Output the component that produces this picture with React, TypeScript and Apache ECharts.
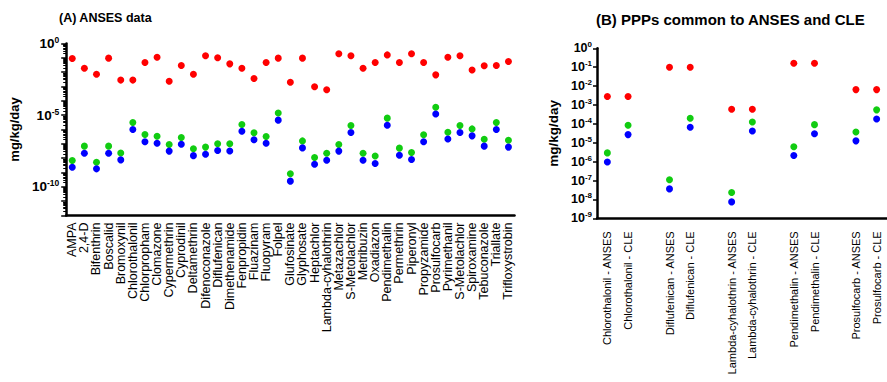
import React, { useEffect, useRef } from 'react';
import * as echarts from 'echarts';

const FONT = '"Liberation Sans", Arial, Helvetica, sans-serif';

// ---------- Panel A: ANSES data ----------
const catsA = [
  'AMPA', '2,4-D', 'Bifenthrin', 'Boscalid', 'Bromoxynil', 'Chlorothalonil', 'Chlorpropham',
  'Clomazone', 'Cypermethrin', 'Cyprodinil', 'Deltamethrin', 'Difenoconazole', 'Diflufenican',
  'Dimethenamide', 'Fenpropidin', 'Fluazinam', 'Fluopyram', 'Folpel', 'Glufosinate', 'Glyphosate',
  'Heptachlor', 'Lambda-cyhalothrin', 'Metazachlor', 'S-Metolachlor', 'Metribuzin', 'Oxadiazon',
  'Pendimethalin', 'Permethrin', 'Piperonyl', 'Propyzamide', 'Prosulfocarb', 'Pyrimethanil',
  'S-Metolachlor', 'Spiroxamine', 'Tebuconazole', 'Triallate', 'Trifloxystrobin',
];

const redA = [
  8.9e-2, 1.9e-2, 7.2e-3, 9.5e-2, 2.8e-3, 2.8e-3, 4.7e-2, 1.1e-1, 2.3e-3, 2.9e-2,
  7.2e-3, 1.4e-1, 1.0e-1, 3.8e-2, 1.9e-2, 3.6e-3, 4.7e-2, 9.5e-2, 2.0e-3, 9.5e-2,
  9.5e-4, 5.9e-4, 1.9e-1, 1.4e-1, 1.9e-2, 4.7e-2, 1.6e-1, 4.7e-2, 1.9e-1, 4.7e-2,
  6.5e-3, 1.1e-1, 1.4e-1, 1.4e-2, 2.8e-2, 2.9e-2, 5.5e-2,
];

const greenA = [
  6.9e-9, 6.9e-8, 5.2e-9, 6.9e-8, 2.3e-8, 3.1e-6, 4.5e-7, 3.4e-7, 8.9e-8, 2.8e-7,
  4.5e-8, 5.9e-8, 1.0e-7, 1.0e-7, 2.2e-6, 5.9e-7, 3.2e-7, 1.4e-5, 8.1e-10, 1.6e-7,
  1.1e-8, 2.2e-8, 8.9e-8, 1.9e-6, 2.2e-8, 1.4e-8, 6.2e-6, 5.0e-8, 2.5e-8, 4.3e-7,
  3.6e-5, 6.5e-7, 1.9e-6, 1.1e-6, 2.1e-7, 3.1e-6, 1.8e-7,
];

const blueA = [
  2.3e-9, 2.2e-8, 1.8e-9, 2.2e-8, 7.6e-9, 1.0e-6, 1.4e-7, 1.1e-7, 3.1e-8, 9.3e-8,
  1.5e-8, 1.9e-8, 3.4e-8, 3.2e-8, 7.6e-7, 1.9e-7, 1.1e-7, 4.5e-6, 2.5e-10, 5.2e-8,
  3.8e-9, 7.2e-9, 3.1e-8, 6.2e-7, 7.2e-9, 4.3e-9, 2.0e-6, 1.6e-8, 8.1e-9, 1.4e-7,
  1.2e-5, 2.2e-7, 6.2e-7, 3.6e-7, 6.9e-8, 1.0e-6, 5.9e-8,
];

const labelTicksA = [1, 1e-5, 1e-10];

// ---------- Panel B: PPPs common to ANSES and CLE ----------
const catsB = [
  'Chlorothalonil - ANSES', 'Chlorothalonil - CLE', ' ',
  'Diflufenican - ANSES', 'Diflufenican - CLE', '  ',
  'Lambda-cyhalothrin - ANSES', 'Lambda-cyhalothrin - CLE', '   ',
  'Pendimethalin - ANSES', 'Pendimethalin - CLE', '    ',
  'Prosulfocarb - ANSES', 'Prosulfocarb - CLE',
];

const redB = [2.8e-3, 2.8e-3, null, 1.0e-1, 1.0e-1, null, 5.9e-4, 5.9e-4, null, 1.6e-1, 1.6e-1, null, 6.5e-3, 6.5e-3];
const greenB = [2.9e-6, 8.5e-5, null, 1.1e-7, 2.0e-4, null, 2.3e-8, 1.26e-4, null, 6.2e-6, 9.1e-5, null, 3.7e-5, 5.5e-4];
const blueB = [9.5e-7, 2.7e-5, null, 3.6e-8, 6.6e-5, null, 7.4e-9, 4.2e-5, null, 2.1e-6, 3.0e-5, null, 1.26e-5, 1.8e-4];

const decadesA = [1, 1e-1, 1e-2, 1e-3, 1e-4, 1e-5, 1e-6, 1e-7, 1e-8, 1e-9, 1e-10, 1e-11, 1e-12];
const decadesB = [1, 1e-1, 1e-2, 1e-3, 1e-4, 1e-5, 1e-6, 1e-7, 1e-8, 1e-9];

const RED = '#ff0000';
const GREEN = '#11cc11';
const BLUE = '#0000ff';

function minorLogTicks(lo: number, hi: number): number[] {
  const out: number[] = [];
  for (let e = lo; e < hi; e++) {
    for (let k = 2; k <= 9; k++) out.push(Number((k * Math.pow(10, e)).toPrecision(3)));
  }
  return out;
}

function supLabel(v: number) {
  const e = Math.round(Math.log10(v));
  return `{b|10}{s|${e === 0 ? 0 : e}}`;
}

export default function App() {
  const ref = useRef<HTMLDivElement>(null);

  useEffect(() => {
    if (!ref.current) return;
    const chart = echarts.init(ref.current, null, { renderer: 'svg' });

    const richA = {
      b: { fontSize: 13.5, fontWeight: 'bold', color: '#000', fontFamily: FONT, lineHeight: 16 },
      s: { fontSize: 8.5, fontWeight: 'bold', color: '#000', fontFamily: FONT, verticalAlign: 'top', lineHeight: 10 },
    };
    const richB = {
      b: { fontSize: 12.5, fontWeight: 'bold', color: '#000', fontFamily: FONT, lineHeight: 15 },
      s: { fontSize: 8, fontWeight: 'bold', color: '#000', fontFamily: FONT, verticalAlign: 'top', lineHeight: 9 },
    };

    const mk = (name: string, data: (number | null)[], color: string, xi: number, yi: number) => ({
      type: 'scatter',
      name,
      xAxisIndex: xi,
      yAxisIndex: yi,
      symbol: 'circle',
      symbolSize: 7,
      itemStyle: { color, opacity: 1 },
      data: data.map((v) => (v == null ? '-' : v)),
    });

    const option: any = {
      animation: false,
      backgroundColor: '#fff',
      title: [
        {
          text: '(A) ANSES data',
          left: 59,
          top: 11,
          padding: 0,
          textStyle: { fontSize: 12.5, fontWeight: 'bold', color: '#000', fontFamily: FONT },
        },
        {
          text: '(B) PPPs common to ANSES and CLE',
          left: 596,
          top: 12,
          padding: 0,
          textStyle: { fontSize: 15, fontWeight: 'bold', color: '#000', fontFamily: FONT },
        },
      ],
      grid: [
        { left: 56, top: 43.5, width: 458.5, height: 172, containLabel: false },
        { left: 597, top: 48.3, width: 290, height: 170, containLabel: false },
      ],
      xAxis: [
        {
          type: 'category',
          gridIndex: 0,
          data: catsA,
          boundaryGap: true,
          axisLine: { lineStyle: { color: '#000', width: 2.5 } },
          axisTick: { alignWithLabel: true, length: 5, lineStyle: { color: '#000', width: 2 } },
          axisLabel: { rotate: 90, interval: 0, margin: 7, fontSize: 12.5, color: '#000', fontFamily: FONT },
          splitLine: { show: false },
        },
        {
          type: 'category',
          gridIndex: 1,
          data: catsB,
          boundaryGap: true,
          axisLine: { lineStyle: { color: '#000', width: 2.5 } },
          axisTick: {
            alignWithLabel: true,
            length: 7,
            interval: (_i: number, v: string) => v.trim() !== '',
            lineStyle: { color: '#000', width: 2 },
          },
          axisLabel: { rotate: 90, interval: 0, margin: 13, fontSize: 11, color: '#000', fontFamily: FONT },
          splitLine: { show: false },
        },
      ],
      yAxis: [
        {
          type: 'log',
          logBase: 10,
          gridIndex: 0,
          min: 1e-12,
          max: 1,
          name: 'mg/kg/day',
          nameLocation: 'middle',
          nameGap: 32,
          nameTextStyle: { fontSize: 13, fontWeight: 'bold', color: '#000', fontFamily: FONT },
          axisLine: { show: true, lineStyle: { color: '#000', width: 2.5 } },
          axisTick: { show: true, length: 5, customValues: decadesA, lineStyle: { color: '#000', width: 1.5 } },
          axisLabel: { customValues: labelTicksA, margin: 7, formatter: supLabel, rich: richA },
          splitLine: { show: false },
        },
        {
          type: 'log',
          logBase: 10,
          gridIndex: 0,
          min: 1e-12,
          max: 1,
          position: 'left',
          axisLine: { show: false },
          axisTick: { show: true, length: 3, customValues: minorLogTicks(-12, 0), lineStyle: { color: '#000', width: 1 } },
          axisLabel: { show: false },
          splitLine: { show: false },
        },
        {
          type: 'log',
          logBase: 10,
          gridIndex: 1,
          min: 1e-9,
          max: 1,
          name: 'mg/kg/day',
          nameLocation: 'middle',
          nameGap: 37,
          nameTextStyle: { fontSize: 13.5, fontWeight: 'bold', color: '#000', fontFamily: FONT },
          axisLine: { show: true, lineStyle: { color: '#000', width: 2.5 } },
          axisTick: { show: true, length: 4, customValues: decadesB, lineStyle: { color: '#000', width: 1.5 } },
          axisLabel: { customValues: decadesB, margin: 5, formatter: supLabel, rich: richB },
          splitLine: { show: false },
        },
      ],
      series: [
        mk('High', redA, RED, 0, 0),
        mk('Mid', greenA, GREEN, 0, 0),
        mk('Low', blueA, BLUE, 0, 0),
        mk('High', redB, RED, 1, 2),
        mk('Mid', greenB, GREEN, 1, 2),
        mk('Low', blueB, BLUE, 1, 2),
      ],
    };

    chart.setOption(option);
    return () => chart.dispose();
  }, []);

  return (
    <div
      ref={ref}
      style={{ position: 'fixed', left: 0, top: 0, width: 887, height: 382, background: '#fff' }}
    />
  );
}
